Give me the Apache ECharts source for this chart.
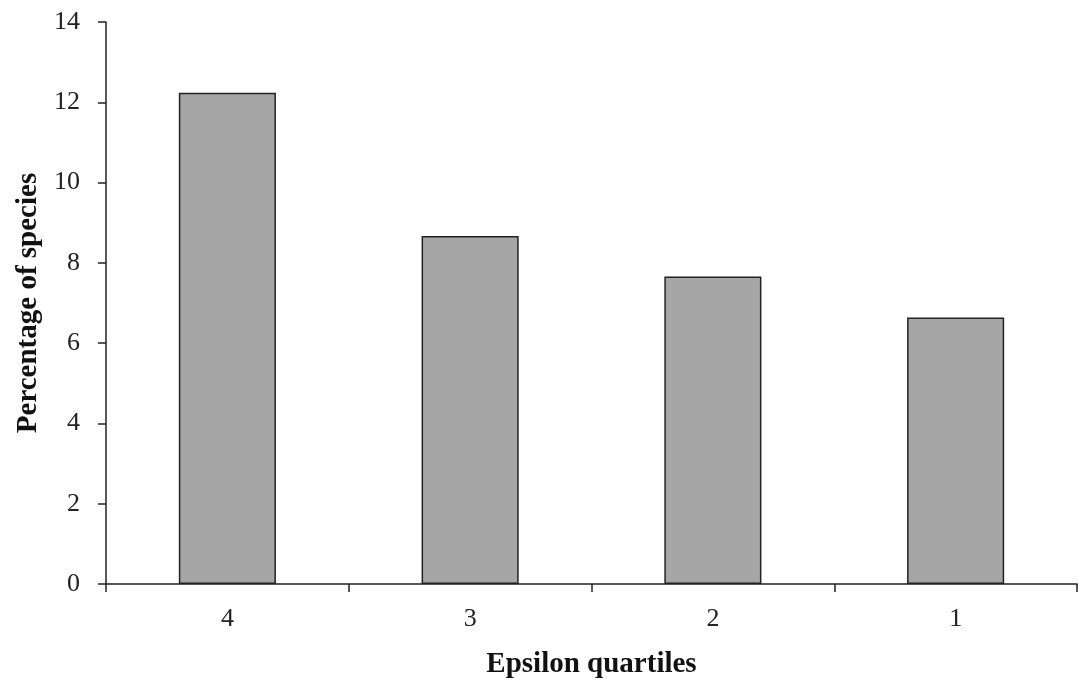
<!DOCTYPE html>
<html>
<head>
<meta charset="utf-8">
<script src="https://cdn.jsdelivr.net/npm/echarts@6/dist/echarts.min.js"></script>
<style>
  html, body { margin: 0; padding: 0; background: #fff; }
  #chart { width: 1078px; height: 680px; }
</style>
</head>
<body>
<div id="chart"></div>
<script>
// Share of species in each epsilon quartile
const quartiles = ['4', '3', '2', '1'];
const percentages = [12.24, 8.67, 7.66, 6.64];
const yTicks = { min: 0, max: 14, interval: 2 };

const chart = echarts.init(document.getElementById('chart'));
const serif = '"Liberation Serif", "Times New Roman", serif';

chart.setOption({
  animation: false,
  backgroundColor: '#ffffff',
  grid: { left: 106, right: 1, top: 22, bottom: 96, containLabel: false, outerBoundsMode: 'none' },
  xAxis: {
    type: 'category',
    data: quartiles,
    boundaryGap: true,
    name: 'Epsilon quartiles',
    nameLocation: 'middle',
    nameGap: 66,
    nameTextStyle: { fontFamily: serif, fontSize: 29, fontWeight: 'bold', color: '#111' },
    axisLine: { lineStyle: { color: '#222', width: 1.5 } },
    axisTick: { show: true, alignWithLabel: false, length: 8, inside: false, lineStyle: { color: '#222', width: 1.5 } },
    axisLabel: { fontFamily: serif, fontSize: 26, color: '#222', margin: 22 },
    splitLine: { show: false }
  },
  yAxis: {
    type: 'value',
    min: yTicks.min,
    max: yTicks.max,
    interval: yTicks.interval,
    name: 'Percentage of species',
    nameLocation: 'middle',
    nameGap: 63,
    nameRotate: 90,
    nameTextStyle: { fontFamily: serif, fontSize: 29, fontWeight: 'bold', color: '#111' },
    axisLine: { show: true, lineStyle: { color: '#222', width: 1.5 } },
    axisTick: { show: true, length: 8, inside: false, lineStyle: { color: '#222', width: 1.5 } },
    axisLabel: { fontFamily: serif, fontSize: 26, color: '#222', margin: 26 },
    splitLine: { show: false }
  },
  series: [{
    type: 'bar',
    data: percentages,
    barWidth: '40%',
    itemStyle: { color: '#a6a6a6', borderColor: '#222', borderWidth: 1.5 }
  }]
});
</script>
</body>
</html>
